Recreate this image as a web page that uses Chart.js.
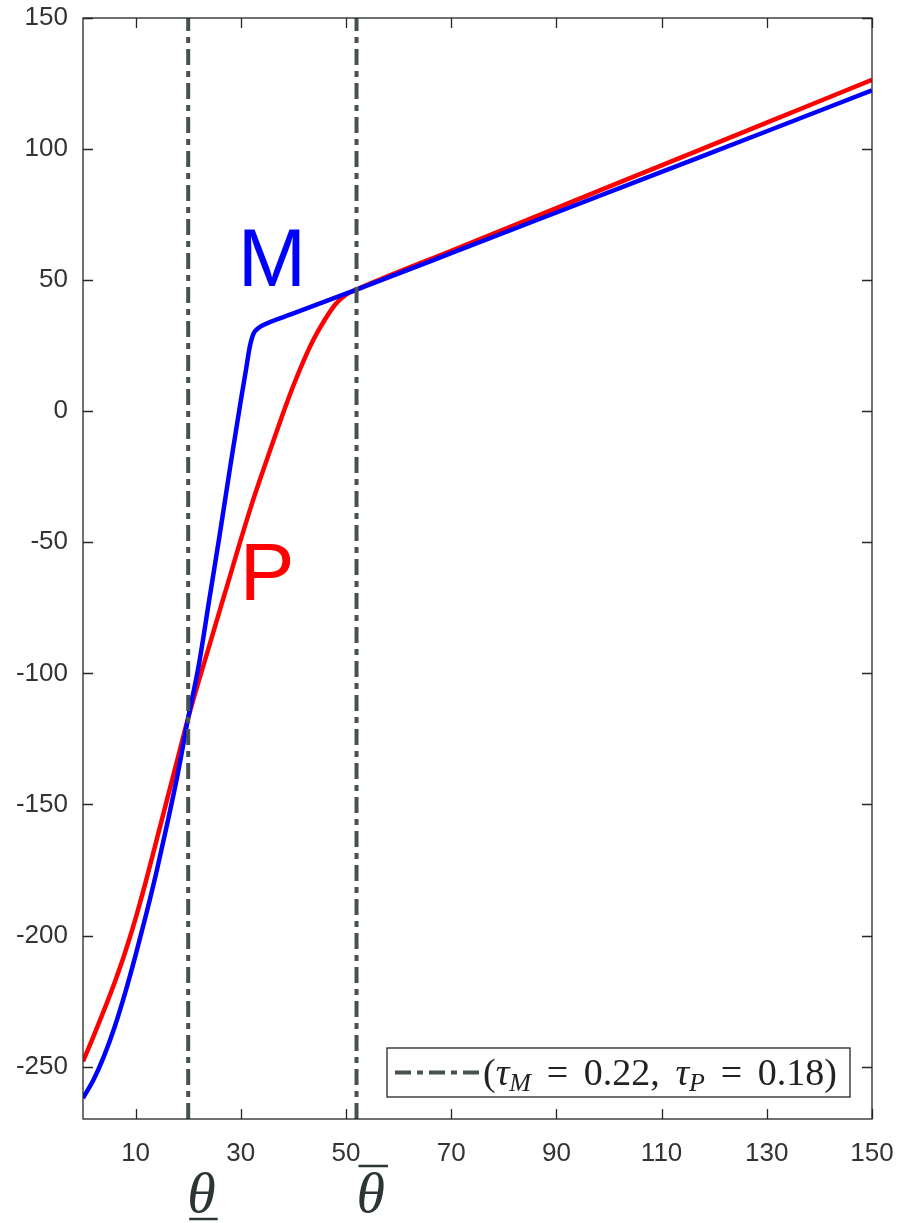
<!DOCTYPE html>
<html>
<head>
<meta charset="utf-8">
<script src="https://cdn.jsdelivr.net/npm/chart.js@4.4.1/dist/chart.umd.min.js"></script>
<style>
  html, body { margin: 0; padding: 0; background: #fff; }
  #wrap { width: 897px; height: 1223px; }
</style>
</head>
<body>
<div id="wrap"><canvas id="chart" width="897" height="1223"></canvas></div>
<script>
// tick labels
var xTicks = [10, 30, 50, 70, 90, 110, 130, 150];
var yTicks = [-250, -200, -150, -100, -50, 0, 50, 100, 150];

// theta thresholds (dash-dot verticals)
var thetaLow = 20;
var thetaHigh = 52;

// M curve (blue)
var mX = [0, 2, 4, 6, 8, 10, 12, 14, 16, 18, 20, 22, 24, 26, 28, 30, 31, 31.7, 32.4, 33.2, 34, 40, 52, 70, 90, 110, 130, 150];
var mY = [-262, -255, -246, -235, -222, -207.5, -192, -175.5, -157.5, -138.5, -117, -97, -72, -47, -21, 4, 16, 24.5, 29.5, 31.5, 32.6, 37.3, 46.4, 60.3, 75.8, 91.3, 106.8, 122.4];

// P curve (red)
var pX = [0, 2, 4, 6, 8, 10, 12, 14, 16, 18, 20, 22, 24, 26, 28, 30, 32, 34, 36, 38, 40, 42, 44, 46, 48, 50, 52, 70, 90, 110, 130, 150];
var pY = [-248, -238.5, -228.5, -218, -206.5, -193.5, -179, -163.5, -148, -132.5, -117, -103, -89.5, -76, -62.5, -49, -36, -24, -12.4, -1, 9.8, 19.5, 28, 35, 40.8, 44.5, 46.4, 61.2, 77.5, 93.8, 110.1, 126.4];

var tauM = '0.22';
var tauP = '0.18';

var dashColor = '#46524c';
var dashPattern = [16, 6, 6, 6];

function pts(xs, ys) {
  return xs.map(function (x, i) { return { x: x, y: ys[i] }; });
}
function vline(x) {
  return [{ x: x, y: -270 }, { x: x, y: 150 }];
}

var decor = {
  id: 'decor',
  afterDraw: function (chart) {
    var ctx = chart.ctx, a = chart.chartArea;
    var xs = chart.scales.x, ys = chart.scales.y;
    ctx.save();

    // box with inward ticks
    ctx.strokeStyle = '#262626';
    ctx.lineWidth = 1.3;
    ctx.strokeRect(a.left, a.top, a.right - a.left, a.bottom - a.top);
    ctx.beginPath();
    xTicks.forEach(function (v) {
      var px = Math.round(xs.getPixelForValue(v)) + 0.5;
      ctx.moveTo(px, a.bottom); ctx.lineTo(px, a.bottom - 10);
      ctx.moveTo(px, a.top); ctx.lineTo(px, a.top + 10);
    });
    yTicks.forEach(function (v) {
      var py = Math.round(ys.getPixelForValue(v)) + 0.5;
      ctx.moveTo(a.left, py); ctx.lineTo(a.left + 10, py);
      ctx.moveTo(a.right, py); ctx.lineTo(a.right - 10, py);
    });
    ctx.stroke();

    // curve names
    ctx.font = '82px "Liberation Sans"';
    ctx.textAlign = 'left';
    ctx.textBaseline = 'alphabetic';
    ctx.fillStyle = '#0000ff';
    ctx.fillText('M', xs.getPixelForValue(29.4), ys.getPixelForValue(47.6));
    ctx.fillStyle = '#ff0000';
    ctx.fillText('P', xs.getPixelForValue(29.8), ys.getPixelForValue(-72));

    // theta labels under the axis
    ctx.fillStyle = '#2b3535';
    ctx.strokeStyle = '#2b3535';
    ctx.font = 'italic 58px "Liberation Serif"';
    var w = ctx.measureText('\u03b8').width;
    var lx = xs.getPixelForValue(thetaLow);
    ctx.fillText('\u03b8', lx - 1, 1212);
    ctx.lineWidth = 2.5;
    ctx.beginPath(); ctx.moveTo(lx + 1, 1219); ctx.lineTo(lx + w + 1, 1219); ctx.stroke();
    var hx = xs.getPixelForValue(thetaHigh);
    ctx.fillText('\u03b8', hx, 1212);
    ctx.beginPath(); ctx.moveTo(hx + 2, 1166); ctx.lineTo(hx + w + 3, 1166); ctx.stroke();

    // legend box
    var bw = 463, bh = 49;
    var bx = a.right - 22 - bw, by = a.bottom - 22 - bh;
    ctx.fillStyle = '#fff';
    ctx.fillRect(bx, by, bw, bh);
    ctx.strokeStyle = '#262626';
    ctx.lineWidth = 1.3;
    ctx.strokeRect(bx, by, bw, bh);
    var cy = by + bh / 2;
    ctx.strokeStyle = dashColor;
    ctx.lineWidth = 4;
    ctx.setLineDash(dashPattern);
    ctx.beginPath(); ctx.moveTo(bx + 8, cy); ctx.lineTo(bx + 93, cy); ctx.stroke();
    ctx.setLineDash([]);

    // legend text: (tau_M = 0.22, tau_P = 0.18), spaced out like LaTeX math
    var size = 38, sub = 26;
    var parts = [
      ['(', 'n', 0, 0], ['\u03c4', 'i', 0, 0], ['M', 's', 6, 1], ['=', 'n', 0, 1],
      [tauM + ',', 'n', 0, 1], ['\u03c4', 'i', 0, 0], ['P', 's', 6, 1], ['=', 'n', 0, 1],
      [tauP + ')', 'n', 0, 0]
    ];
    function setF(k) {
      if (k === 'n') ctx.font = size + 'px "Liberation Serif"';
      else if (k === 'i') ctx.font = 'italic ' + size + 'px "Liberation Serif"';
      else ctx.font = 'italic ' + sub + 'px "Liberation Serif"';
    }
    var natural = 0, gaps = 0;
    parts.forEach(function (p) { setF(p[1]); natural += ctx.measureText(p[0]).width; gaps += p[3]; });
    var target = 354;
    var gap = Math.max(0, (target - natural) / gaps);
    var tx = bx + 96, base = cy + 12;
    ctx.fillStyle = '#222';
    parts.forEach(function (p) {
      setF(p[1]);
      ctx.fillText(p[0], tx, base + p[2]);
      tx += ctx.measureText(p[0]).width + p[3] * gap;
    });

    ctx.restore();
  }
};

function noPad(s) {
  s.paddingLeft = 0; s.paddingRight = 0; s.paddingTop = 0; s.paddingBottom = 0;
}

new Chart(document.getElementById('chart'), {
  type: 'line',
  data: {
    datasets: [
      { data: vline(thetaLow), borderColor: dashColor, borderWidth: 4, borderDash: dashPattern, pointRadius: 0, order: 0 },
      { data: vline(thetaHigh), borderColor: dashColor, borderWidth: 4, borderDash: dashPattern, pointRadius: 0, order: 0 },
      { data: pts(mX, mY), borderColor: '#0000ff', borderWidth: 4.5, pointRadius: 0, cubicInterpolationMode: 'monotone', order: 1 },
      { data: pts(pX, pY), borderColor: '#ff0000', borderWidth: 4.5, pointRadius: 0, cubicInterpolationMode: 'monotone', order: 2 }
    ]
  },
  options: {
    responsive: false,
    animation: false,
    events: [],
    layout: { padding: { left: 0, top: 18, right: 25, bottom: 0 } },
    plugins: { legend: { display: false }, tooltip: { enabled: false } },
    scales: {
      x: {
        type: 'linear', min: 0, max: 150,
        grid: { display: false, drawTicks: false },
        border: { display: false },
        afterBuildTicks: function (s) { s.ticks = xTicks.map(function (v) { return { value: v }; }); },
        afterFit: function (s) { s.height = 104; noPad(s); },
        ticks: { color: '#333', font: { family: 'Liberation Sans', size: 26 }, padding: 19, maxRotation: 0, autoSkip: false }
      },
      y: {
        type: 'linear', min: -270, max: 150,
        grid: { display: false, drawTicks: false },
        border: { display: false },
        afterBuildTicks: function (s) { s.ticks = yTicks.map(function (v) { return { value: v }; }); },
        afterFit: function (s) { s.width = 83; noPad(s); },
        ticks: { color: '#333', font: { family: 'Liberation Sans', size: 26 }, padding: 15 }
      }
    }
  },
  plugins: [decor]
});
</script>
</body>
</html>
